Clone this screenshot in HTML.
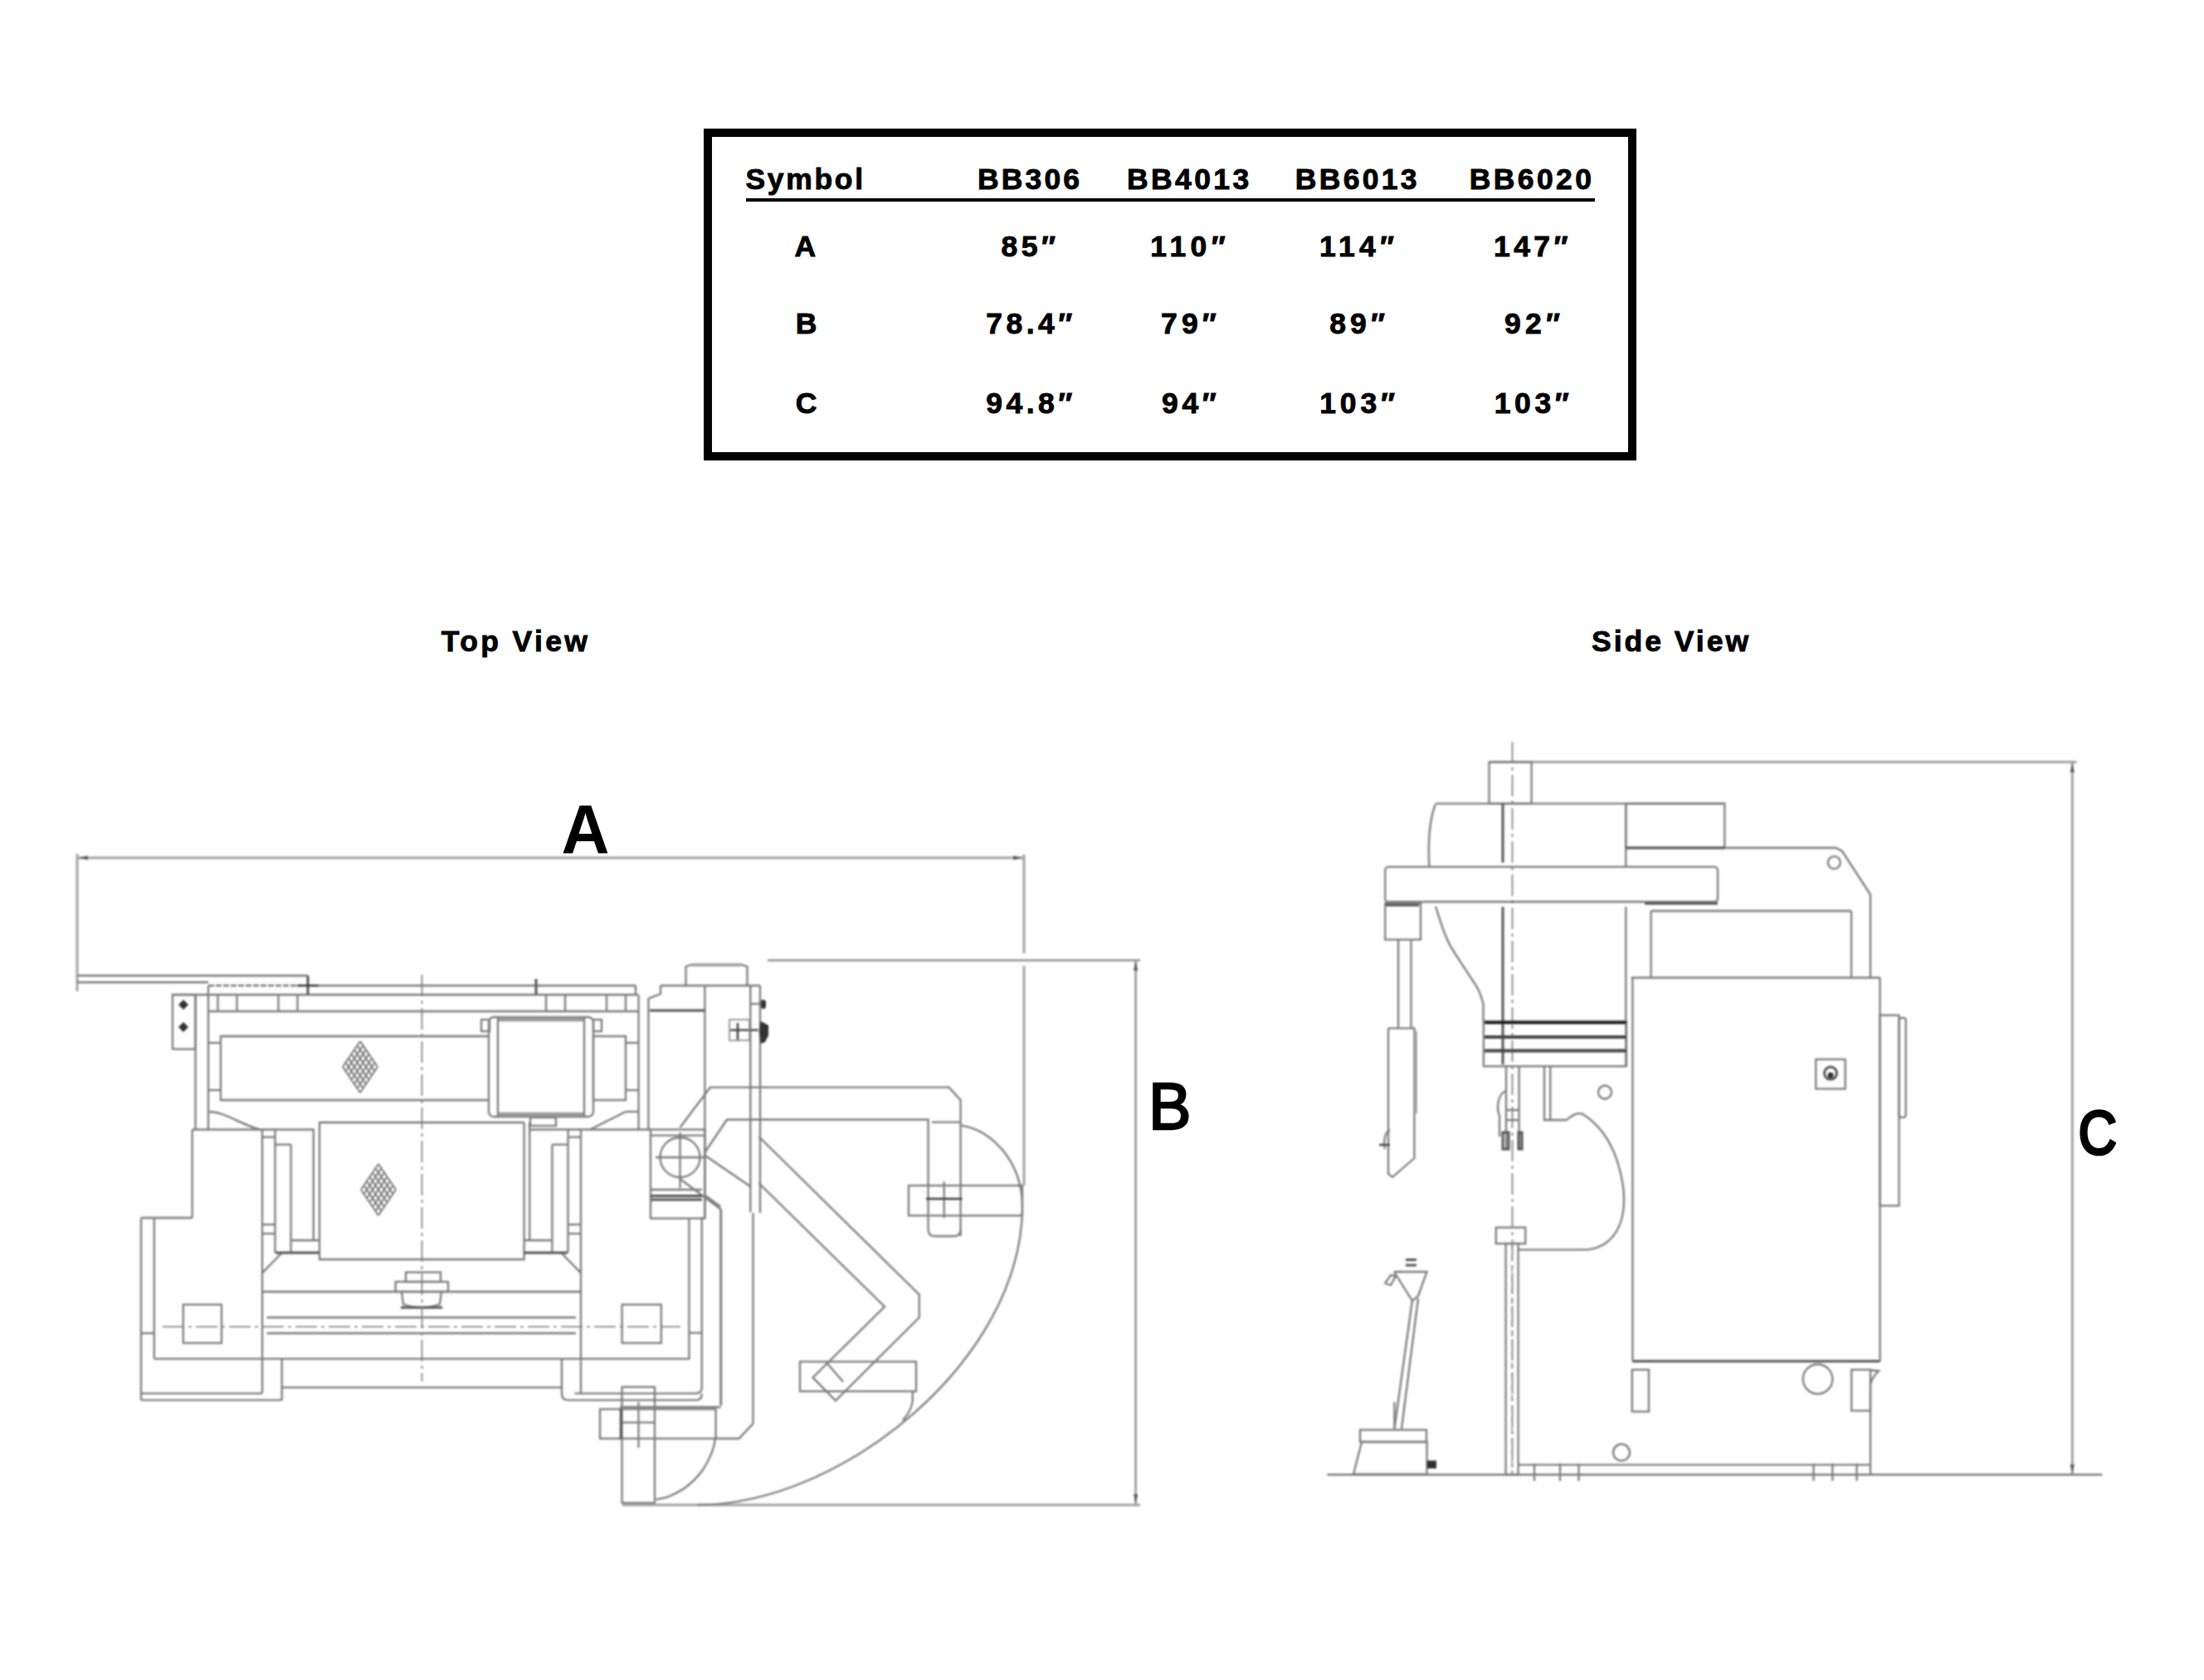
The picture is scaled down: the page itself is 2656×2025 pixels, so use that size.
<!DOCTYPE html>
<html><head><meta charset="utf-8"><style>
html,body{margin:0;padding:0;background:#fff;}
body{width:2656px;height:2025px;position:relative;overflow:hidden;font-family:"Liberation Sans",sans-serif;}
#tbl{position:absolute;left:848px;top:155px;width:1124px;height:400px;border:10px solid #000;box-sizing:border-box;}
#ul{position:absolute;left:899px;top:239px;width:1023px;height:4px;background:#000;}
svg{position:absolute;left:0;top:0;}
.t{font-family:"Liberation Sans",sans-serif;font-weight:bold;font-size:35.5px;fill:#000;stroke:#000;stroke-width:0.9px;}
.big{font-family:"Liberation Sans",sans-serif;font-weight:bold;fill:#000;}
</style></head><body>
<div id="tbl"></div>
<div id="ul"></div>
<svg width="2656" height="2025" viewBox="0 0 2656 2025">
<defs><filter id="bl" x="0" y="0" width="2656" height="2025" filterUnits="userSpaceOnUse"><feGaussianBlur stdDeviation="0.9"/></filter></defs>
<g filter="url(#bl)"><g fill="none" stroke="#a2a2a2" stroke-width="3">
<path d="M93,1034 L1234,1034"/>
<path d="M93,1029 L93,1195"/>
<path d="M1234,1030 L1234,1149"/>
<path d="M1234,1164 L1234,1429"/>
<path d="M750,1814 L1374,1814"/>
<path d="M925,1157.5 L1374,1157.5"/>
<path d="M1368.6,1157 L1368.6,1814"/>
<path d="M1794.5,918.6 L2502.5,918.6"/>
<path d="M2497.3,918.6 L2497.3,1777.4"/>
</g>
<g fill="#555" stroke="none">
<path d="M95,1034 L106,1031.5 L106,1036.5 Z"/>
<path d="M1232,1034 L1221,1031.5 L1221,1036.5 Z"/>
<path d="M1368.6,1159 L1366,1170 L1371.2,1170 Z"/>
<path d="M1368.6,1812 L1366,1801 L1371.2,1801 Z"/>
<path d="M2497.3,920.5 L2494.7,931 L2499.9,931 Z"/>
<path d="M2497.3,1775.5 L2494.7,1765 L2499.9,1765 Z"/>
</g>
<g fill="none" stroke="#7c7c7c" stroke-width="2.3">
<path d="M93,1176 L371,1176"/>
<path d="M93,1184 L251,1184"/>
<path d="M371,1188 L766,1188"/>
<path d="M766,1188 L766,1199"/>
<path d="M208,1199 L769,1199"/>
<rect x="208" y="1199" width="27.50" height="65.50"/>
<path d="M235.5,1199 L235.5,1361.5"/>
<path d="M251,1188 L251,1361.5"/>
<path d="M251,1219 L769,1219"/>
<path d="M262.5,1199 L262.5,1219"/>
<path d="M285.5,1199 L285.5,1219"/>
<path d="M335.5,1199 L335.5,1219"/>
<path d="M358.5,1199 L358.5,1219"/>
<path d="M658,1199 L658,1219"/>
<path d="M681,1199 L681,1219"/>
<path d="M731,1199 L731,1219"/>
<path d="M754,1199 L754,1219"/>
<path d="M589,1249 L266,1249 L266,1326 L589,1326"/>
<path d="M251,1257 L266,1257"/>
<path d="M251,1314 L266,1314"/>
<path d="M251,1340 C272,1340 290,1356 314,1361.5"/>
<path d="M231.7,1361.5 L379,1361.5"/>
<path d="M231.7,1361.5 L231.7,1468"/>
<path d="M170,1468 L231.7,1468"/>
<path d="M316,1361.5 L316,1679.6"/>
<path d="M700,1361.5 L700,1679.6"/>
<path d="M331.5,1361.5 L331.5,1510"/>
<path d="M316,1370.6 L331.5,1370.6"/>
<path d="M316,1476 L331.5,1476"/>
<path d="M316,1487 L331.5,1487"/>
<path d="M331.5,1379.6 L350.6,1379.6"/>
<path d="M350.6,1379.6 L350.6,1510"/>
<path d="M377.8,1361.5 L377.8,1495"/>
<path d="M350.6,1495 L385,1495"/>
<path d="M316,1534.4 L339,1510.8"/>
<path d="M684.5,1361.5 L684.5,1510"/>
<path d="M700,1370.6 L684.5,1370.6"/>
<path d="M700,1476 L684.5,1476"/>
<path d="M700,1487 L684.5,1487"/>
<path d="M684.5,1379.6 L665.4,1379.6"/>
<path d="M665.4,1379.6 L665.4,1510"/>
<path d="M638.2,1361.5 L638.2,1495"/>
<path d="M665.4,1495 L631,1495"/>
<path d="M700,1534.4 L677,1510.8"/>
<path d="M631.6,1353 L385,1353 L385,1518 L631.6,1518 L631.6,1353"/>
<path d="M638,1353 L638,1361.5"/>
<path d="M638,1361.5 L783,1361.5"/>
<rect x="589" y="1226" width="126.00" height="120.00" rx="6"/>
<rect x="600" y="1228" width="104.00" height="116.00"/>
<rect x="580" y="1229" width="10.00" height="14.00"/>
<rect x="715" y="1229" width="10.00" height="14.00"/>
<rect x="715" y="1249" width="39.00" height="77.00"/>
<path d="M754,1257 L769,1257"/>
<path d="M754,1314 L769,1314"/>
<path d="M754,1340 L769,1340"/>
<path d="M754,1340 L711,1361.5"/>
<rect x="639" y="1347" width="31.00" height="10.00"/>
<path d="M769.6,1199 L769.6,1361.5"/>
<path d="M781.4,1203.6 L781.4,1361.5"/>
<path d="M781.4,1203.6 L796,1198 L796,1188"/>
<path d="M796,1188 L916,1188"/>
<path d="M826.5,1188 L826.5,1165 L833,1163 L894,1163 L900.5,1165 L900.5,1188"/>
<path d="M849.4,1188 L849.4,1468"/>
<path d="M904.3,1188 L904.3,1461"/>
<path d="M916,1188 L916,1462"/>
<path d="M904.3,1210 L917,1210"/>
<circle cx="819.5" cy="1395" r="24"/>
<path d="M790,1395 L849,1395"/>
<path d="M819.5,1365 L819.5,1432"/>
<rect x="784" y="1361.5" width="65.40" height="107.10"/>
<path d="M784,1368.7 L849.4,1368.7"/>
<path d="M784,1434 L846,1434"/>
<path d="M848.5,1392 L904.8,1430.5"/>
<path d="M819.5,1359 L855.8,1310.7 L1143.6,1310.7 L1157.6,1326 L1157.6,1490"/>
<path d="M848.5,1390.5 L876,1349.5 L1118.6,1349.5 L1118.6,1482"/>
<path d="M1118.6,1482 Q1118.6,1490 1126,1490 L1150,1490 Q1157.6,1490 1157.6,1482"/>
<path d="M1123,1352.7 L1157.6,1352.7"/>
<path d="M819.5,1421 L868.5,1457.7 L868.5,1694"/>
<path d="M848.5,1440 L868.5,1454.5"/>
<path d="M830.4,1468 L830.4,1637.8"/>
<path d="M845.8,1467 L845.8,1672 Q845.8,1679.6 838,1679.6"/>
<path d="M170,1468 L170,1687.7"/>
<path d="M185.8,1468 L185.8,1637.8"/>
<path d="M185.8,1637.8 L831.3,1637.8"/>
<path d="M170,1679.6 L316,1679.6"/>
<path d="M170,1687.7 L339.7,1687.7"/>
<path d="M339.7,1637.8 L339.7,1687.7"/>
<path d="M339.7,1672.3 L677,1672.3"/>
<path d="M677,1637.8 L677,1680"/>
<path d="M677,1680 Q677,1687.7 685,1687.7 L838,1687.7 Q845.8,1687.7 845.8,1680"/>
<path d="M692.5,1679.6 L838,1679.6"/>
<rect x="220.8" y="1572.5" width="46.20" height="46.30"/>
<rect x="749.6" y="1572.5" width="47.20" height="46.30"/>
<path d="M170,1607 L185.8,1607"/>
<path d="M321.5,1607 L694,1607"/>
<path d="M321.5,1588 L694,1588"/>
<path d="M316,1557 L700,1557"/>
<path d="M831.3,1606.6 L845.8,1606.6"/>
<rect x="489" y="1533.5" width="42.00" height="11.50"/>
<rect x="476.7" y="1545" width="63.30" height="12.00"/>
<path d="M484,1557 L486,1572 Q508,1580 530,1572 L532,1557"/>
<rect x="723" y="1698.5" width="139.60" height="35.50"/>
<rect x="749.5" y="1671.8" width="39.50" height="139.70"/>
<path d="M769.5,1690 L769.5,1745"/>
<path d="M749,1714.7 L789,1714.7"/>
<path d="M862.6,1734 L890.5,1734 L907.5,1716 L907.5,1462"/>
<path d="M869,1457 L869,1694"/>
<path d="M747,1696 L868.5,1696"/>
<path d="M1157.6,1356.3 C1195,1362 1232,1400 1232,1454.5 C1232,1637 1016.7,1814 840.4,1814"/>
<path d="M1099.8,1676.3 L1099.8,1688 C1099,1697 1095,1704 1088,1712"/>
<path d="M861.5,1734 C861.4,1735.0 861.8,1736.8 861,1740 C860.2,1743.2 859.3,1747.5 856.8,1753 C854.3,1758.5 850.9,1766.5 846,1773 C841.1,1779.5 834.0,1786.9 827.3,1792 C820.6,1797.1 812.1,1801.2 806,1803.8 C799.9,1806.3 793.2,1806.7 790.7,1807.3"/>
<rect x="964" y="1641.3" width="140.00" height="35.70"/>
<rect x="1095" y="1429" width="137.00" height="36.20"/>
<path d="M1137.7,1424 L1137.7,1468"/>
<path d="M914.4,1370 L1107.7,1560.5 L1107.7,1588 L1007,1688.3 L979.5,1660.4 L1066,1575 L914.4,1426"/>
<path d="M996,1642.6 L1016,1665.4"/>
<rect x="1794.5" y="918.6" width="51.10" height="50.10"/>
<path d="M1729.7,968.7 L2078.3,968.7"/>
<rect x="1959.3" y="968.7" width="119.00" height="53.30"/>
<path d="M1959.3,968.7 L1959.3,1045"/>
<path d="M1729.7,969.7 C1722,990 1721,1020 1722.4,1045"/>
<rect x="1669.2" y="1044.9" width="400.80" height="42.10" rx="4"/>
<rect x="1669.2" y="1088.7" width="42.80" height="43.90"/>
<path d="M1685,1132.6 L1685,1239"/>
<path d="M1700.5,1132.6 L1700.5,1239"/>
<path d="M1673,1239.3 L1704.4,1239.3 L1704.4,1396 L1678,1418.8 L1673,1415 L1673,1239.3"/>
<path d="M1730,1092.5 C1731.6,1097.4 1736.6,1113.7 1739.6,1121.7 C1742.6,1129.7 1743.5,1132.4 1748,1140.4 C1752.5,1148.4 1761.2,1161.0 1766.7,1169.6 C1772.2,1178.2 1777.5,1185.3 1781,1192 C1784.5,1198.7 1786.4,1207.0 1787.5,1210 L1787.5,1231"/>
<path d="M1959.3,1093 L1959.3,1285"/>
<path d="M1989.6,1098 L2231,1098"/>
<path d="M1989.6,1098 L1989.6,1177.4"/>
<path d="M2078,1022 L2212.4,1022 L2220,1026 L2254,1078.3 L2254,1177.4"/>
<circle cx="2210.3" cy="1039.7" r="7.5"/>
<path d="M2231,1098 L2231,1177.4"/>
<path d="M1965.6,1178.5 L2266,1178.5"/>
<path d="M1967.4,1178 L1967.4,1640"/>
<path d="M2265.5,1178.5 L2265.5,1640.7"/>
<rect x="1787.9" y="1231" width="172.10" height="54.20"/>
<path d="M1815,1285 L1815,1385"/>
<path d="M1830.6,1285 L1830.6,1385"/>
<path d="M1815,1338 L1830.6,1338"/>
<path d="M1815,1350 L1830.6,1350"/>
<path d="M1815,1315 C1805,1318 1803,1335 1807,1345 L1807,1370"/>
<path d="M1861,1285 L1861,1350 L1889,1350"/>
<path d="M1868.2,1285 L1868.2,1350"/>
<path d="M1889,1349 C1895,1344 1900,1341 1906.8,1342.6 C1935,1360 1950,1390 1956,1430 C1962,1480 1940,1506 1907.8,1506.4 L1829.6,1506.4"/>
<circle cx="1934" cy="1316.5" r="8"/>
<rect x="2188.2" y="1276.9" width="35.50" height="35.50"/>
<rect x="2265.4" y="1223.7" width="23.00" height="229.60"/>
<rect x="2288.4" y="1226.8" width="8.30" height="120.00" rx="3"/>
<path d="M1675,1362 C1668,1365 1667,1378 1669,1385"/>
<rect x="1814.6" y="1499" width="15.00" height="278.50"/>
<rect x="1802.8" y="1479.6" width="35.40" height="19.40"/>
<path d="M1599.3,1777.5 L2533.5,1777.5"/>
<path d="M1829.6,1765.7 L2254,1765.7"/>
<path d="M1849,1764 L1849,1785"/>
<path d="M1880,1764 L1880,1785"/>
<path d="M1902.5,1764 L1902.5,1785"/>
<path d="M2185.5,1764 L2185.5,1785"/>
<path d="M2208.3,1764 L2208.3,1785"/>
<path d="M2237.5,1764 L2237.5,1785"/>
<rect x="1966.8" y="1651" width="20.20" height="50.40"/>
<path d="M2254,1651.5 L2264,1652.5 Q2256,1660 2254,1669 L2254,1777.5"/>
<rect x="2231.2" y="1651" width="22.80" height="49.40"/>
<circle cx="1954" cy="1750.7" r="10"/>
<circle cx="2190.5" cy="1662.3" r="17.8"/>
<rect x="1639" y="1723.5" width="80.00" height="14.50"/>
<path d="M1641,1738 L1719.6,1738 L1719.6,1777 L1631,1777 L1641,1738"/>
<path d="M1680.4,1722 L1701.8,1568"/>
<path d="M1689,1722 L1709,1565"/>
<path d="M1680.4,1722 L1680.4,1690"/>
<path d="M1680,1533 L1719.6,1533 L1709,1562 L1702,1568 L1680,1533"/>
<path d="M1668.8,1547 L1676,1549 L1682,1538 L1676,1537 L1668.8,1547"/>
</g>
<g fill="none" stroke="#777" stroke-width="2.4" stroke-dasharray="7,2">
<path d="M251,1188 L371,1188"/>
</g>
<g fill="none" stroke="#555" stroke-width="3">
<path d="M371,1176 L371,1199"/>
<path d="M646,1180 L646,1199"/>
<path d="M332,1510 L385,1510"/>
<path d="M684,1510 L631,1510"/>
<path d="M783,1218 L849.4,1218"/>
<path d="M784,1441.5 L846,1441.5"/>
<path d="M784,1446 L846,1446"/>
<path d="M483,1576 L533,1576"/>
<path d="M748.3,1698 L748.3,1734"/>
<path d="M1959.3,1022 L2078.3,1022"/>
<path d="M1811,968.7 L1811,1039.7"/>
<path d="M1670,1091 L1710,1091"/>
<path d="M1811,1093 L1811,1283"/>
<path d="M1982,1089 L2070,1089"/>
<path d="M1967,1640.7 L2265.5,1640.7"/>
<rect x="1811" y="1365" width="7.00" height="20.00"/>
<rect x="1830" y="1365" width="4.00" height="20.00"/>
<circle cx="2206" cy="1293.6" r="7.5"/>
<path d="M1694,1518.5 L1707,1518.5"/>
<path d="M1694,1525 L1707,1525"/>
</g>
<g fill="none" stroke="#3a3a3a" stroke-width="2.4">
<path d="M358,1188 L384,1188"/>
<path d="M880,1241.6 L914,1241.6"/>
<path d="M889,1233 L889,1255"/>
<path d="M1116,1445 L1159.5,1445"/>
<path d="M1662,1380 L1675,1380"/>
</g>
<g fill="#333" stroke="none">
<path d="M215,1211 L221,1205 L227,1211 L221,1217 Z"/>
<path d="M215,1238 L221,1232 L227,1238 L221,1244 Z"/>
<path d="M917,1207 Q917,1205 920,1205 Q923,1205 923,1209 L923,1213 Q923,1216 920,1216 Q917,1216 917,1213 Z"/>
<path d="M916,1231 L921,1233 L926,1236 L926,1248 L922,1256 L917,1258 L915,1245 Z"/>
<circle cx="2206" cy="1296" r="3.5"/>
<rect x="1719.5" y="1760.5" width="11.50" height="9.50"/>
</g>
<g fill="none" stroke="#9a9a9a" stroke-width="5">
<path d="M601,1228.8 L703,1228.8"/>
<path d="M601,1343.2 L703,1343.2"/>
</g>
<g fill="none" stroke="#a0a0a0" stroke-width="3.5">
<path d="M834,1163 L894,1163"/>
<path d="M1706,1243 L1706,1342"/>
</g>
<g fill="none" stroke="#8c8c8c" stroke-width="1.7">
<rect x="879" y="1229" width="24.00" height="25.00"/>
</g>
<g fill="none" stroke="#777" stroke-width="1.6" stroke-dasharray="26,5,4,5">
<path d="M196,1599.3 L820,1599.3"/>
<path d="M508.5,1175 L508.5,1665"/>
<path d="M1822.5,894 L1822.5,1777"/>
</g>
<g fill="none" stroke="#7a7a7a" stroke-width="2">
<path d="M413.0,1286.0 L434.0,1255.0"/>
<path d="M413.0,1286.0 L434.0,1317.0"/>
<path d="M416.5,1291.2 L437.5,1260.2"/>
<path d="M416.5,1280.8 L437.5,1311.8"/>
<path d="M420.0,1296.3 L441.0,1265.3"/>
<path d="M420.0,1275.7 L441.0,1306.7"/>
<path d="M423.5,1301.5 L444.5,1270.5"/>
<path d="M423.5,1270.5 L444.5,1301.5"/>
<path d="M427.0,1306.7 L448.0,1275.7"/>
<path d="M427.0,1265.3 L448.0,1296.3"/>
<path d="M430.5,1311.8 L451.5,1280.8"/>
<path d="M430.5,1260.2 L451.5,1291.2"/>
<path d="M434.0,1317.0 L455.0,1286.0"/>
<path d="M434.0,1255.0 L455.0,1286.0"/>
<path d="M435.0,1434.0 L456.0,1403.0"/>
<path d="M435.0,1434.0 L456.0,1465.0"/>
<path d="M438.5,1439.2 L459.5,1408.2"/>
<path d="M438.5,1428.8 L459.5,1459.8"/>
<path d="M442.0,1444.3 L463.0,1413.3"/>
<path d="M442.0,1423.7 L463.0,1454.7"/>
<path d="M445.5,1449.5 L466.5,1418.5"/>
<path d="M445.5,1418.5 L466.5,1449.5"/>
<path d="M449.0,1454.7 L470.0,1423.7"/>
<path d="M449.0,1413.3 L470.0,1444.3"/>
<path d="M452.5,1459.8 L473.5,1428.8"/>
<path d="M452.5,1408.2 L473.5,1439.2"/>
<path d="M456.0,1465.0 L477.0,1434.0"/>
<path d="M456.0,1403.0 L477.0,1434.0"/>
</g>
<g fill="none" stroke="#111" stroke-width="3.5">
<path d="M1789,1232.5 L1960,1232.5"/>
</g>
<g fill="none" stroke="#444" stroke-width="4">
<path d="M1789,1249.9 L1960,1249.9"/>
<path d="M1789,1266.6 L1960,1266.6"/>
</g>
<g fill="none" stroke="#888" stroke-width="1.5" stroke-dasharray="8,5">
<path d="M1822.2,1499 L1822.2,1777"/>
</g></g>
<g class="t">
<text x="898.40" y="228" textLength="141.60" lengthAdjust="spacing">Symbol</text>
<text x="1178.00" y="228" textLength="123.00" lengthAdjust="spacing">BB306</text>
<text x="1358.00" y="228" textLength="147.20" lengthAdjust="spacing">BB4013</text>
<text x="1560.80" y="228" textLength="146.70" lengthAdjust="spacing">BB6013</text>
<text x="1770.70" y="228" textLength="147.30" lengthAdjust="spacing">BB6020</text>
<text x="957.50" y="309">A</text>
<text x="1206.40" y="309" textLength="65.60" lengthAdjust="spacing">85″</text>
<text x="1386.30" y="309" textLength="90.40" lengthAdjust="spacing">110″</text>
<text x="1590.00" y="309" textLength="90.00" lengthAdjust="spacing">114″</text>
<text x="1799.90" y="309" textLength="89.70" lengthAdjust="spacing">147″</text>
<text x="958.65" y="401.5">B</text>
<text x="1188.30" y="401.5" textLength="103.90" lengthAdjust="spacing">78.4″</text>
<text x="1399.00" y="401.5" textLength="66.80" lengthAdjust="spacing">79″</text>
<text x="1602.20" y="401.5" textLength="66.80" lengthAdjust="spacing">89″</text>
<text x="1813.10" y="401.5" textLength="66.80" lengthAdjust="spacing">92″</text>
<text x="958.75" y="498">C</text>
<text x="1188.30" y="498" textLength="103.90" lengthAdjust="spacing">94.8″</text>
<text x="1400.00" y="498" textLength="65.80" lengthAdjust="spacing">94″</text>
<text x="1590.30" y="498" textLength="90.70" lengthAdjust="spacing">103″</text>
<text x="1800.70" y="498" textLength="90.10" lengthAdjust="spacing">103″</text>
<text x="531.80" y="785" textLength="176.10" lengthAdjust="spacing">Top View</text>
<text x="1918.00" y="785" textLength="189.00" lengthAdjust="spacing">Side View</text>
</g>
<g class="big">

<text transform="matrix(0.803 0 0 0.838 676.6 1028.8)" font-size="100" font-weight="bold">A</text>
<text transform="matrix(0.771 0 0 0.796 1384.1 1361.2)" font-size="100" font-weight="normal" stroke="#000" stroke-width="3">B</text>
<text transform="matrix(0.637 0 0 0.733 2504.8 1391.1)" font-size="100" font-weight="normal" stroke="#000" stroke-width="5">C</text>

</g>
</svg>
</body></html>
